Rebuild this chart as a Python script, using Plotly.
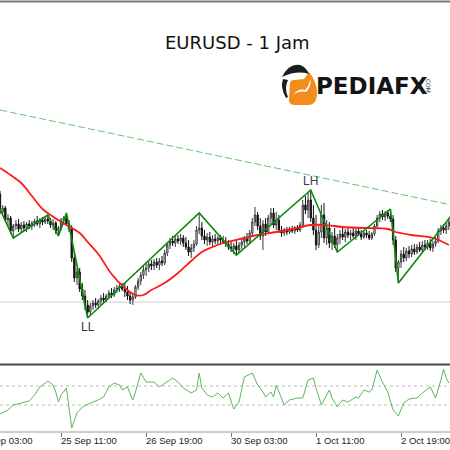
import plotly.graph_objects as go

W = H = 450

# ---- hourly EURUSD candles (bar index 0 = 24 Sep 12:00) ----
bars = list(range(170))
open_ = [
    1.1006, 1.0988, 1.0992, 1.0980, 1.0982, 1.0969, 1.0974, 1.0976, 1.0971, 1.0975,
    1.0972, 1.0976, 1.0974, 1.0977, 1.0979, 1.0976, 1.0980, 1.0978, 1.0981, 1.0979,
    1.0975, 1.0977, 1.0969, 1.0972, 1.0980, 1.0982, 1.0976, 1.0971, 1.0942, 1.0922,
    1.0928, 1.0911, 1.0904, 1.0895, 1.0888, 1.0894, 1.0897, 1.0895, 1.0899, 1.0902,
    1.0900, 1.0904, 1.0907, 1.0905, 1.0910, 1.0912, 1.0914, 1.0911, 1.0908, 1.0904,
    1.0900, 1.0903, 1.0913, 1.0919, 1.0925, 1.0930, 1.0932, 1.0936, 1.0934, 1.0938,
    1.0935, 1.0939, 1.0937, 1.0947, 1.0955, 1.0959, 1.0957, 1.0961, 1.0959, 1.0962,
    1.0957, 1.0953, 1.0948, 1.0952, 1.0956, 1.0970, 1.0972, 1.0964, 1.0960, 1.0963,
    1.0958, 1.0961, 1.0959, 1.0962, 1.0960, 1.0958, 1.0956, 1.0953, 1.0951, 1.0954,
    1.0950, 1.0955, 1.0958, 1.0961, 1.0959, 1.0967, 1.0978, 1.0985, 1.0974, 1.0964,
    1.0976, 1.0968, 1.0982, 1.0987, 1.0975, 1.0980, 1.0970, 1.0967, 1.0970, 1.0968,
    1.0971, 1.0969, 1.0972, 1.0970, 1.0975, 1.0995, 1.0990, 1.1000, 1.0982, 1.0970,
    1.0955, 1.0968, 1.0985, 1.0962, 1.0972, 1.0957, 1.0964, 1.0955, 1.0962, 1.0966,
    1.0963, 1.0968, 1.0965, 1.0967, 1.0964, 1.0969, 1.0966, 1.0963, 1.0967, 1.0965,
    1.0962, 1.0966, 1.0974, 1.0982, 1.0986, 1.0983, 1.0987, 1.0984, 1.0981, 1.0960,
    1.0932, 1.0938, 1.0946, 1.0942, 1.0949, 1.0946, 1.0951, 1.0948, 1.0953, 1.0950,
    1.0955, 1.0953, 1.0957, 1.0952, 1.0956, 1.0959, 1.0969, 1.0972, 1.0970, 1.0974,
]
high = [
    1.1009, 1.0995, 1.0994, 1.0986, 1.0984, 1.0976, 1.0980, 1.0981, 1.0978, 1.0979,
    1.0978, 1.0980, 1.0979, 1.0981, 1.0984, 1.0982, 1.0983, 1.0984, 1.0985, 1.0982,
    1.0981, 1.0979, 1.0974, 1.0982, 1.0984, 1.0987, 1.0980, 1.0975, 1.0948, 1.0932,
    1.0932, 1.0917, 1.0910, 1.0900, 1.0897, 1.0900, 1.0902, 1.0901, 1.0905, 1.0907,
    1.0906, 1.0910, 1.0912, 1.0913, 1.0915, 1.0916, 1.0917, 1.0917, 1.0914, 1.0908,
    1.0907, 1.0915, 1.0922, 1.0928, 1.0934, 1.0937, 1.0939, 1.0940, 1.0941, 1.0942,
    1.0942, 1.0944, 1.0950, 1.0958, 1.0962, 1.0964, 1.0964, 1.0965, 1.0966, 1.0965,
    1.0963, 1.0960, 1.0956, 1.0960, 1.0974, 1.0987, 1.0978, 1.0970, 1.0967, 1.0968,
    1.0965, 1.0966, 1.0964, 1.0965, 1.0964, 1.0963, 1.0960, 1.0959, 1.0957, 1.0960,
    1.0958, 1.0962, 1.0964, 1.0967, 1.0970, 1.0982, 1.0993, 1.0988, 1.0982, 1.0980,
    1.0982, 1.0985, 1.0992, 1.0992, 1.0988, 1.0985, 1.0974, 1.0972, 1.0973, 1.0973,
    1.0974, 1.0974, 1.0975, 1.0978, 1.1000, 1.1004, 1.1007, 1.1010, 1.0995, 1.0985,
    1.0975, 1.0995, 1.0997, 1.0980, 1.0978, 1.0968, 1.0972, 1.0966, 1.0970, 1.0972,
    1.0971, 1.0973, 1.0970, 1.0972, 1.0971, 1.0973, 1.0970, 1.0969, 1.0970, 1.0969,
    1.0968, 1.0976, 1.0985, 1.0989, 1.0990, 1.0989, 1.0990, 1.0991, 1.0985, 1.0964,
    1.0940, 1.0950, 1.0953, 1.0952, 1.0954, 1.0955, 1.0956, 1.0956, 1.0958, 1.0959,
    1.0960, 1.0960, 1.0961, 1.0959, 1.0963, 1.0972, 1.0975, 1.0976, 1.0977, 1.0982,
]
low = [
    1.0986, 1.0984, 1.0978, 1.0974, 1.0966, 1.0962, 1.0970, 1.0968, 1.0967, 1.0969,
    1.0968, 1.0971, 1.0970, 1.0973, 1.0974, 1.0972, 1.0975, 1.0976, 1.0976, 1.0972,
    1.0970, 1.0966, 1.0964, 1.0970, 1.0975, 1.0974, 1.0968, 1.0938, 1.0918, 1.0915,
    1.0908, 1.0900, 1.0890, 1.0882, 1.0885, 1.0890, 1.0892, 1.0891, 1.0895, 1.0897,
    1.0898, 1.0901, 1.0902, 1.0903, 1.0907, 1.0908, 1.0909, 1.0903, 1.0900, 1.0896,
    1.0895, 1.0901, 1.0910, 1.0915, 1.0921, 1.0924, 1.0928, 1.0930, 1.0930, 1.0932,
    1.0930, 1.0934, 1.0935, 1.0944, 1.0951, 1.0954, 1.0953, 1.0956, 1.0955, 1.0953,
    1.0950, 1.0944, 1.0942, 1.0948, 1.0954, 1.0966, 1.0960, 1.0956, 1.0954, 1.0955,
    1.0954, 1.0956, 1.0955, 1.0957, 1.0956, 1.0953, 1.0950, 1.0948, 1.0946, 1.0945,
    1.0947, 1.0951, 1.0953, 1.0956, 1.0957, 1.0964, 1.0974, 1.0970, 1.0960, 1.0950,
    1.0964, 1.0966, 1.0976, 1.0972, 1.0970, 1.0967, 1.0963, 1.0964, 1.0965, 1.0966,
    1.0967, 1.0966, 1.0968, 1.0968, 1.0972, 1.0986, 1.0982, 1.0978, 1.0965, 1.0950,
    1.0952, 1.0962, 1.0957, 1.0955, 1.0952, 1.0950, 1.0952, 1.0948, 1.0956, 1.0960,
    1.0958, 1.0962, 1.0960, 1.0962, 1.0960, 1.0964, 1.0960, 1.0961, 1.0962, 1.0960,
    1.0960, 1.0964, 1.0971, 1.0978, 1.0980, 1.0979, 1.0981, 1.0978, 1.0955, 1.0928,
    1.0917, 1.0932, 1.0938, 1.0939, 1.0942, 1.0943, 1.0945, 1.0946, 1.0948, 1.0947,
    1.0950, 1.0950, 1.0949, 1.0948, 1.0953, 1.0957, 1.0965, 1.0967, 1.0966, 1.0970,
]
close = [
    1.0988, 1.0992, 1.0980, 1.0982, 1.0969, 1.0974, 1.0976, 1.0971, 1.0975, 1.0972,
    1.0976, 1.0974, 1.0977, 1.0979, 1.0976, 1.0980, 1.0978, 1.0981, 1.0979, 1.0975,
    1.0977, 1.0969, 1.0972, 1.0980, 1.0982, 1.0976, 1.0971, 1.0942, 1.0922, 1.0928,
    1.0911, 1.0904, 1.0895, 1.0888, 1.0894, 1.0897, 1.0895, 1.0899, 1.0902, 1.0900,
    1.0904, 1.0907, 1.0905, 1.0910, 1.0912, 1.0914, 1.0911, 1.0908, 1.0904, 1.0900,
    1.0903, 1.0913, 1.0919, 1.0925, 1.0930, 1.0932, 1.0936, 1.0934, 1.0938, 1.0935,
    1.0939, 1.0937, 1.0947, 1.0955, 1.0959, 1.0957, 1.0961, 1.0959, 1.0962, 1.0957,
    1.0953, 1.0948, 1.0952, 1.0956, 1.0970, 1.0972, 1.0964, 1.0960, 1.0963, 1.0958,
    1.0961, 1.0959, 1.0962, 1.0960, 1.0958, 1.0956, 1.0953, 1.0951, 1.0954, 1.0950,
    1.0955, 1.0958, 1.0961, 1.0959, 1.0967, 1.0978, 1.0985, 1.0974, 1.0964, 1.0976,
    1.0968, 1.0982, 1.0987, 1.0975, 1.0980, 1.0970, 1.0967, 1.0970, 1.0968, 1.0971,
    1.0969, 1.0972, 1.0970, 1.0975, 1.0995, 1.0990, 1.1000, 1.0982, 1.0970, 1.0955,
    1.0968, 1.0985, 1.0962, 1.0972, 1.0957, 1.0964, 1.0955, 1.0962, 1.0966, 1.0963,
    1.0968, 1.0965, 1.0967, 1.0964, 1.0969, 1.0966, 1.0963, 1.0967, 1.0965, 1.0962,
    1.0966, 1.0974, 1.0982, 1.0986, 1.0983, 1.0987, 1.0984, 1.0981, 1.0960, 1.0932,
    1.0938, 1.0946, 1.0942, 1.0949, 1.0946, 1.0951, 1.0948, 1.0953, 1.0950, 1.0955,
    1.0953, 1.0957, 1.0952, 1.0956, 1.0959, 1.0969, 1.0972, 1.0970, 1.0974, 1.0978,
]

# moving average (red)
ma_bar = [0, 4, 8, 12, 16, 19, 25, 30, 33, 37, 42, 47, 51, 54, 57, 62, 67, 72, 76, 80,
          84, 92, 97, 104, 110, 117, 122, 129, 137, 146, 149, 155, 163, 169]
ma_val = [1.1032, 1.1025, 1.1017, 1.1004, 1.0991, 1.0985, 1.0975, 1.0967, 1.0958, 1.0946,
          1.0926, 1.0912, 1.0905, 1.0905, 1.0910, 1.0917, 1.0927, 1.0939, 1.0948, 1.0953,
          1.0957, 1.0962, 1.0965, 1.0968, 1.0971, 1.0975, 1.0975, 1.0973, 1.0972, 1.0971,
          1.0968, 1.0965, 1.0962, 1.0955]

# zigzag swing points (green)
zz_bar = [-2, 5, 18, 22, 25, 33, 75, 89, 117, 127, 147, 150, 171]
zz_val = [1.1002, 1.0962, 1.0985, 1.0964, 1.0987, 1.0882, 1.0987, 1.0945, 1.1010,
          1.0948, 1.0991, 1.0917, 1.0988]

# descending trendline (dashed) and horizontal level
trend_bar = [0, 170]
trend_val = [1.1090, 1.0995]
support_level = 1.0898

# oscillator sub-window
osc_bar = [0, 3, 5, 8, 11, 13, 15, 18, 20, 21, 22, 23, 25, 27, 29, 31, 34, 37, 39, 41,
           43, 45, 46, 48, 50, 51, 53, 55, 58, 60, 63, 65, 67, 69, 72, 74, 75, 76, 78, 80,
           82, 84, 86, 88, 90, 92, 95, 97, 99, 100, 102, 103, 104, 107, 109, 112, 114, 116,
           118, 119, 121, 124, 125, 127, 129, 131, 134, 135, 137, 139, 140, 142, 144, 146,
           148, 150, 152, 154, 157, 159, 162, 164, 166, 167, 168, 169]
osc_val = [18, 22, 27, 29, 31, 37, 45, 51, 47, 40, 30, 37, 44, 4, 19, 25, 29, 32, 35, 45,
           49, 47, 42, 45, 32, 40, 59, 50, 50, 45, 50, 54, 50, 44, 39, 42, 59, 44, 37, 35,
           39, 34, 39, 23, 30, 55, 59, 47, 40, 35, 40, 35, 47, 27, 32, 34, 34, 52,
           54, 44, 27, 42, 34, 25, 32, 30, 35, 34, 42, 40, 42, 62, 50, 40,
           22, 16, 29, 33, 34, 39, 45, 34, 52, 63, 54, 49]
osc_levels = [46, 27]

tick_bars = [-9, 23, 55, 87, 119, 151]
tick_text = ["24 Sep 03:00", "25 Sep 11:00", "26 Sep 19:00",
             "30 Sep 03:00", "1 Oct 11:00", "2 Oct 19:00"]

swing_text = ["LL", "LH"]
swing_bar = [33, 117]
swing_val = [1.0882, 1.1010]

X_RANGE = [0, 169.43]
Y_MAIN = [1.0837, 1.1200]
Y_OSC = [0, 67]


def py(px):
    """pixel row -> paper y"""
    return 1 - px / H


def path(cmds):
    out = []
    for c, pts in cmds:
        out.append(c + " ".join(f"{x / W:.4f},{py(y):.4f}" for x, y in pts))
    return " ".join(out) + " Z"


fig = go.Figure()

fig.add_trace(go.Scatter(
    x=trend_bar, y=trend_val, mode="lines",
    line=dict(color="#6cc46c", width=1, dash="7px,3px"),
    xaxis="x", yaxis="y", hoverinfo="skip",
))

fig.add_trace(go.Candlestick(
    x=bars, open=open_, high=high, low=low, close=close,
    increasing=dict(line=dict(color="#3a3a3a", width=1), fillcolor="#ffffff"),
    decreasing=dict(line=dict(color="#111111", width=1), fillcolor="#111111"),
    whiskerwidth=0, xaxis="x", yaxis="y", hoverinfo="skip",
))

fig.add_trace(go.Scatter(
    x=ma_bar, y=ma_val, mode="lines", line=dict(color="#ff1a1a", width=1.8, shape="spline"),
    xaxis="x", yaxis="y", hoverinfo="skip",
))

fig.add_trace(go.Scatter(
    x=zz_bar, y=zz_val, mode="lines", line=dict(color="#0a8a0a", width=1.6),
    xaxis="x", yaxis="y", hoverinfo="skip",
))

fig.add_trace(go.Scatter(
    x=osc_bar, y=osc_val, mode="lines", line=dict(color="#5cb85c", width=1),
    xaxis="x2", yaxis="y2", hoverinfo="skip",
))

shapes = [
    dict(type="line", xref="paper", yref="paper", x0=0, x1=1, y0=py(1.5), y1=py(1.5),
         line=dict(color="#7a7a7a", width=2)),
    dict(type="line", xref="paper", yref="paper", x0=0, x1=1, y0=py(364.5), y1=py(364.5),
         line=dict(color="#4a4a4a", width=2)),
    dict(type="line", xref="paper", yref="paper", x0=0, x1=1, y0=py(432), y1=py(432),
         line=dict(color="#9a9a9a", width=1)),
    dict(type="line", xref="paper", yref="y", x0=0, x1=1, y0=support_level, y1=support_level,
         line=dict(color="#cccccc", width=1), layer="below"),
]
for lv in osc_levels:
    shapes.append(dict(type="line", xref="paper", yref="y2", x0=0, x1=1, y0=lv, y1=lv,
                       line=dict(color="#bdbdbd", width=1, dash="dot"), layer="below"))

# PEDIAFX logo mark
shapes += [
    dict(type="path", xref="paper", yref="paper", fillcolor="#f28c1e", line=dict(width=0),
         path=path([("M", [(290, 84)]), ("Q", [(290, 80), (294, 80)]), ("L", [(304, 79)]),
                    ("L", [(309, 72)]), ("Q", [(317, 82), (317, 93)]),
                    ("Q", [(317, 105), (308, 105)]), ("L", [(295, 105)]),
                    ("Q", [(289, 105), (289, 100)])])),
    dict(type="path", xref="paper", yref="paper", fillcolor="#1c1c1c", line=dict(width=0),
         path=path([("M", [(282, 77)]), ("Q", [(289, 63), (300, 65)]),
                    ("Q", [(306, 67), (309, 74)]), ("Q", [(297, 70), (282, 77)])])),
    dict(type="path", xref="paper", yref="paper", fillcolor="#1c1c1c", line=dict(width=0),
         path=path([("M", [(283, 79)]), ("Q", [(280, 88), (286, 98)]), ("L", [(288, 97)]),
                    ("Q", [(284, 88), (288, 80)])])),
    dict(type="path", xref="paper", yref="paper", fillcolor="#ffffff", line=dict(width=0),
         path=path([("M", [(293, 95)]), ("Q", [(299, 88), (305, 90)]),
                    ("Q", [(310, 85), (310, 78)]), ("Q", [(312, 86), (306, 92)]),
                    ("Q", [(299, 90), (293, 95)])])),
]

annotations = [
    dict(text="EURUSD - 1 Jam", xref="paper", yref="paper", x=238 / W, y=py(42),
         xanchor="center", yanchor="middle", showarrow=False,
         font=dict(family="DejaVu Sans", size=18, color="#111111")),
    dict(text="PEDIAFX", xref="paper", yref="paper", x=372 / W, y=py(86),
         xanchor="center", yanchor="middle", showarrow=False,
         font=dict(family="DejaVu Sans", size=23, color="#141414", weight="bold")),
    dict(text=".COM", xref="paper", yref="paper", x=429 / W, y=py(85), textangle=90,
         xanchor="center", yanchor="middle", showarrow=False,
         font=dict(family="DejaVu Sans", size=6, color="#333333")),
]
for t, b, v in zip(swing_text, swing_bar, swing_val):
    below = t == "LL"
    annotations.append(dict(
        text=t, x=b, y=v, xref="x", yref="y", showarrow=False,
        yanchor="top" if below else "bottom",
        font=dict(family="Liberation Sans", size=12, color="#3c3c3c"),
    ))
for b, t in zip(tick_bars, tick_text):
    xp = (b - X_RANGE[0]) / (X_RANGE[1] - X_RANGE[0])
    annotations.append(dict(
        text=t, x=xp, y=py(440), xref="paper", yref="paper", xanchor="left",
        yanchor="middle", xshift=-2, showarrow=False,
        font=dict(family="Liberation Sans", size=9.5, color="#222222"),
    ))

fig.update_layout(
    width=W, height=H, margin=dict(l=0, r=0, t=0, b=0),
    paper_bgcolor="white", plot_bgcolor="white",
    showlegend=False, hovermode=False,
    xaxis=dict(domain=[0, 1], range=X_RANGE, anchor="y", visible=False,
               rangeslider=dict(visible=False)),
    xaxis2=dict(domain=[0, 1], range=X_RANGE, anchor="y2", showgrid=False,
                zeroline=False, showline=False, showticklabels=False,
                tickvals=tick_bars[1:], ticks="outside", ticklen=4,
                tickcolor="#777777", tickwidth=1),
    yaxis=dict(domain=[py(363), 1], range=Y_MAIN, visible=False),
    yaxis2=dict(domain=[py(432), py(365)], range=Y_OSC, visible=False),
    shapes=shapes, annotations=annotations,
)

# the page's default body margin would push the 450x450 figure off the window
fig.write_html("out.html", config={"displayModeBar": False},
               post_script="document.body.style.margin='0';")
